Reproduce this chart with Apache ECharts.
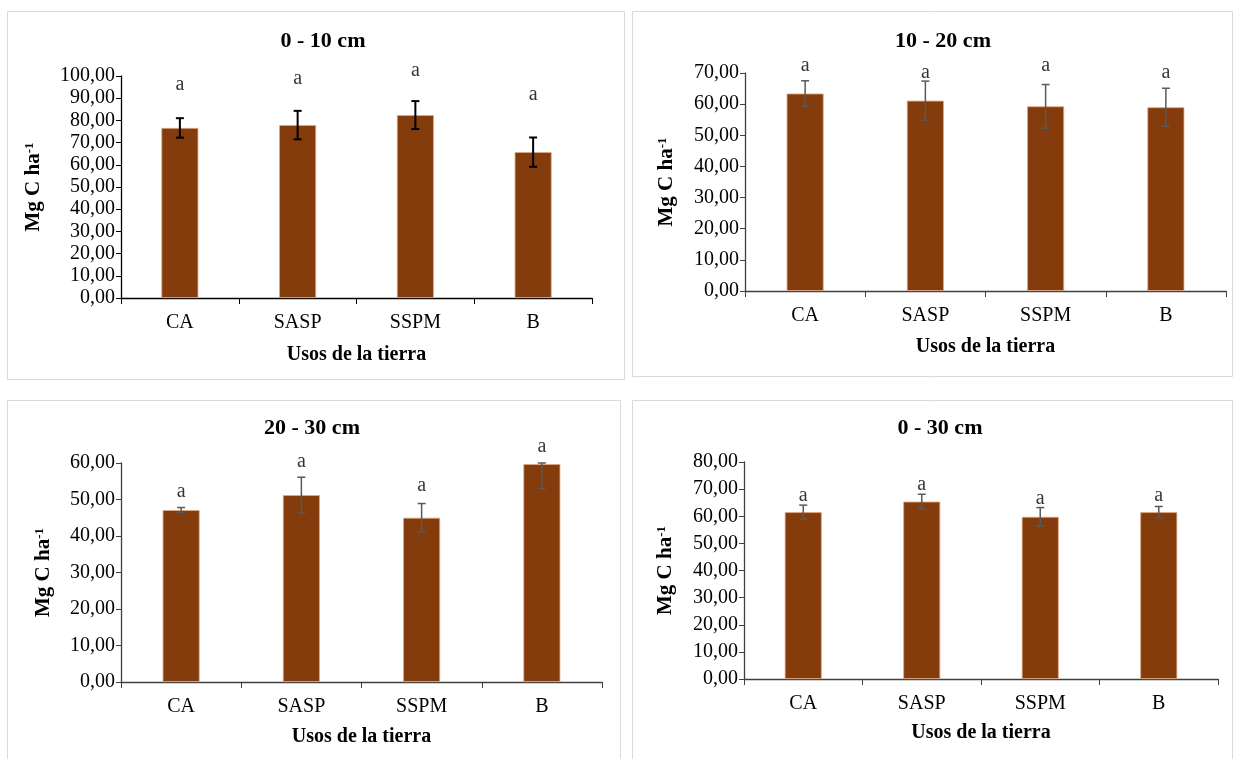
<!DOCTYPE html>
<html>
<head>
<meta charset="utf-8">
<title>Mg C ha-1 por uso de la tierra</title>
<script src="https://cdn.jsdelivr.net/npm/echarts@6/dist/echarts.min.js"></script>
<style>
  html, body { margin: 0; padding: 0; background: #fff; }
  #main { width: 1233px; height: 759px; }
</style>
</head>
<body>
<div id="main"></div>
<script>
// datos
var usos = ['CA', 'SASP', 'SSPM', 'B'];
var titulos = ['0 - 10 cm', '10 - 20 cm', '20 - 30 cm', '0 - 30 cm'];

var media_0_10  = [76.6, 77.9, 82.4, 65.7];
var error_0_10  = [4.4, 6.4, 6.3, 6.6];
var media_10_20 = [63.4, 61.1, 59.3, 59.0];
var error_10_20 = [4.1, 6.3, 7.0, 6.1];
var media_20_30 = [47.1, 51.2, 45.0, 59.7];
var error_20_30 = [0.7, 4.9, 3.9, 6.7];
var media_0_30  = [61.5, 65.4, 59.8, 61.5];
var error_0_30  = [2.6, 2.7, 3.4, 2.1];

// letras de significancia y su altura en el eje
var letras_0_10  = ['a', 'a', 'a', 'a'];
var altura_0_10  = [96, 98.7, 102.4, 91.5];
var letras_10_20 = ['a', 'a', 'a', 'a'];
var altura_10_20 = [72.4, 70.1, 72.4, 70.2];
var letras_20_30 = ['a', 'a', 'a', 'a'];
var altura_20_30 = [52.0, 60.3, 53.8, 64.4];
var letras_0_30  = ['a', 'a', 'a', 'a'];
var altura_0_30  = [67.7, 71.7, 66.4, 67.6];

var yMax = [100, 70, 60, 80];

var medias = [media_0_10, media_10_20, media_20_30, media_0_30];
var errores = [error_0_10, error_10_20, error_20_30, error_0_30];
var letras = [letras_0_10, letras_10_20, letras_20_30, letras_0_30];
var alturas = [altura_0_10, altura_10_20, altura_20_30, altura_0_30];

var fuente = '"Liberation Serif", "Times New Roman", serif';
var colorBarra = '#843C0C';
var colorError = ['#000000', '#595959', '#595959', '#595959'];

// posicion de cada panel (pixeles)
var paneles = [
    {box: [7, 11, 617, 368],   grid: {left: 121, top: 76,  width: 471, height: 222}, tituloX: 318, tituloY: 25,  nombreX: 47, nombreY: 76},
    {box: [632, 11, 600, 365], grid: {left: 745, top: 73,  width: 481, height: 218}, tituloX: 938, tituloY: 25,  nombreX: 46, nombreY: 67},
    {box: [7, 400, 613, 359],  grid: {left: 121, top: 463, width: 481, height: 219}, tituloX: 307, tituloY: 412, nombreX: 45, nombreY: 66},
    {box: [632, 400, 600, 359], grid: {left: 744, top: 462, width: 474, height: 217}, tituloX: 935, tituloY: 412, nombreX: 44, nombreY: 67}
];

var myChart = echarts.init(document.getElementById('main'));

var option = {
    backgroundColor: '#fff',
    animation: false,
    title: [],
    graphic: [],
    grid: [],
    xAxis: [],
    yAxis: [],
    series: []
};

paneles.forEach(function (p, i) {
    // marco del grafico
    option.graphic.push({
        type: 'rect',
        shape: {x: p.box[0] + 0.5, y: p.box[1] + 0.5, width: p.box[2], height: p.box[3]},
        style: {fill: 'none', stroke: '#d9d9d9', lineWidth: 1},
        z: -1
    });
    option.title.push({
        text: titulos[i],
        left: p.tituloX,
        top: p.tituloY,
        textAlign: 'center',
        textStyle: {fontFamily: fuente, fontSize: 22, fontWeight: 'bold', color: '#000'}
    });
    option.grid.push({left: p.grid.left, top: p.grid.top, width: p.grid.width, height: p.grid.height, containLabel: false});
    option.xAxis.push({
        type: 'category',
        gridIndex: i,
        data: usos,
        boundaryGap: true,
        name: 'Usos de la tierra',
        nameLocation: 'middle',
        nameGap: p.nombreX,
        nameTextStyle: {fontFamily: fuente, fontSize: 20, fontWeight: 'bold', color: '#000'},
        axisLine: {lineStyle: {color: i === 0 ? '#000' : '#404040', width: 1.3}},
        axisTick: {show: true, alignWithLabel: false, length: 6, lineStyle: {color: i === 0 ? '#000' : '#404040'}},
        axisLabel: {fontFamily: fuente, fontSize: 20, color: '#000', margin: 15},
        splitLine: {show: false}
    });
    option.yAxis.push({
        type: 'value',
        gridIndex: i,
        min: 0,
        max: yMax[i],
        interval: 10,
        name: '{n|Mg C ha}{s|-1}',
        nameLocation: 'middle',
        nameGap: p.nombreY,
        nameRotate: 90,
        nameTextStyle: {
            rich: {
                n: {fontFamily: fuente, fontSize: 21, fontWeight: 'bold', color: '#000'},
                s: {fontFamily: fuente, fontSize: 13, fontWeight: 'bold', color: '#000', verticalAlign: 'top', padding: [0, 0, 9, 0]}
            }
        },
        axisLine: {show: true, lineStyle: {color: i === 0 ? '#000' : '#404040', width: 1.3}},
        axisTick: {show: true, inside: false, length: 5, lineStyle: {color: i === 0 ? '#000' : '#404040'}},
        axisLabel: {
            fontFamily: fuente, fontSize: 20, color: '#000', margin: 6,
            formatter: function (v) { return v.toFixed(2).replace('.', ','); }
        },
        splitLine: {show: false}
    });

    // barras
    option.series.push({
        type: 'bar',
        xAxisIndex: i,
        yAxisIndex: i,
        data: medias[i],
        barWidth: 37,
        itemStyle: {color: colorBarra, borderColor: '#e0a983', borderWidth: 0.8},
        z: 2
    });

    // barras de error
    var datosError = medias[i].map(function (m, k) { return [k, m - errores[i][k], m + errores[i][k]]; });
    option.series.push({
        type: 'custom',
        xAxisIndex: i,
        yAxisIndex: i,
        data: datosError,
        z: 3,
        renderItem: function (params, api) {
            var x = api.value(0);
            var lo = api.coord([x, api.value(1)]);
            var hi = api.coord([x, Math.min(api.value(2), yMax[i])]);
            var c = 4;
            var st = {stroke: colorError[i], lineWidth: i === 0 ? 2 : 1.5};
            return {
                type: 'group',
                children: [
                    {type: 'line', shape: {x1: hi[0], y1: hi[1], x2: lo[0], y2: lo[1]}, style: st},
                    {type: 'line', shape: {x1: hi[0] - c, y1: hi[1], x2: hi[0] + c, y2: hi[1]}, style: st},
                    {type: 'line', shape: {x1: lo[0] - c, y1: lo[1], x2: lo[0] + c, y2: lo[1]}, style: st}
                ]
            };
        }
    });

    // letras de significancia
    option.series.push({
        type: 'scatter',
        xAxisIndex: i,
        yAxisIndex: i,
        symbolSize: 0,
        clip: false,
        data: alturas[i].map(function (h, k) { return {value: [k, h], letra: letras[i][k]}; }),
        label: {
            show: true,
            position: 'inside',
            fontFamily: fuente,
            fontSize: 20,
            color: '#000',
            formatter: function (d) { return d.data.letra; }
        },
        labelLayout: {hideOverlap: false},
        z: 4
    });
});

myChart.setOption(option);
</script>
</body>
</html>
